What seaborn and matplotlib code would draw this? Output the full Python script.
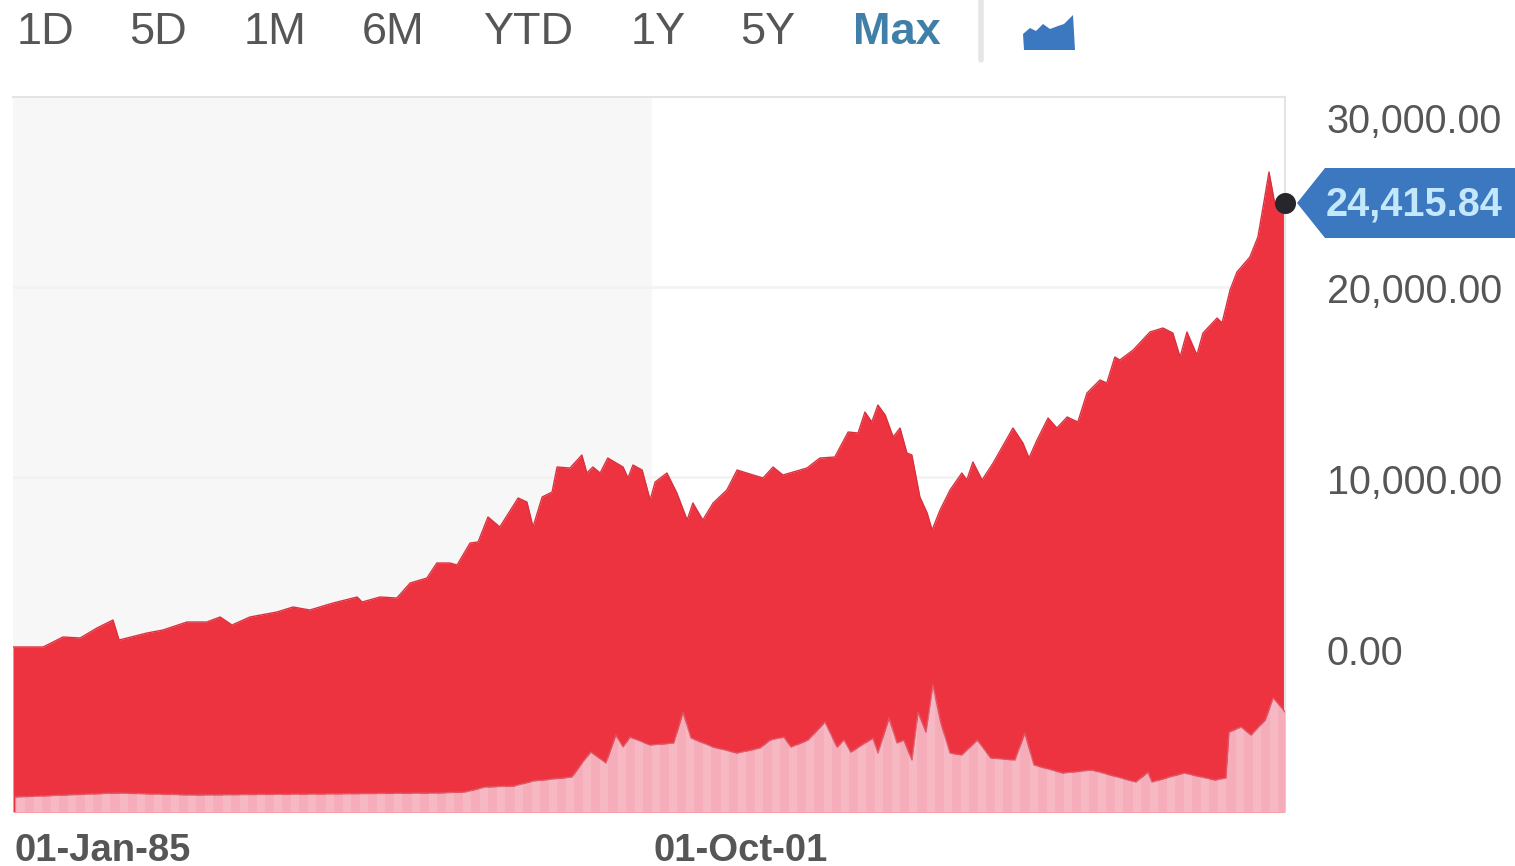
#Library imports
import numpy as np
import pandas as pd
import matplotlib
matplotlib.use('Agg')
import matplotlib.pyplot as plt
from matplotlib.patches import Polygon
from matplotlib.lines import Line2D
from matplotlib.transforms import ScaledTranslation
import seaborn as sns

W, H = 1515, 866

# index level
price_years = [1985.00, 1985.79, 1986.31, 1986.76, 1987.20, 1987.62, 1987.78, 1988.51, 1988.93, 1989.56,
    1990.08, 1990.43, 1990.74, 1991.21, 1991.92, 1992.34, 1992.78, 1993.39, 1994.02, 1994.15,
    1994.62, 1995.06, 1995.41, 1995.85, 1996.11, 1996.45, 1996.64, 1996.98, 1997.19, 1997.45,
    1997.76, 1998.24, 1998.47, 1998.63, 1998.87, 1999.13, 1999.26, 1999.60, 1999.91, 2000.04,
    2000.20, 2000.39, 2000.59, 2000.99, 2001.12, 2001.25, 2001.49, 2001.70, 2001.83, 2002.14,
    2002.40, 2002.67, 2002.82, 2003.08, 2003.35, 2003.71, 2003.98, 2004.40, 2004.66, 2004.92,
    2005.18, 2005.81, 2006.15, 2006.54, 2006.89, 2007.15, 2007.33, 2007.51, 2007.67, 2007.86,
    2008.07, 2008.25, 2008.43, 2008.56, 2008.77, 2008.96, 2009.09, 2009.30, 2009.56, 2009.87,
    2010.00, 2010.16, 2010.40, 2010.69, 2011.21, 2011.47, 2011.63, 2011.84, 2012.13, 2012.36,
    2012.63, 2012.91, 2013.15, 2013.49, 2013.67, 2013.88, 2014.01, 2014.36, 2014.80, 2015.14,
    2015.40, 2015.59, 2015.77, 2016.03, 2016.19, 2016.56, 2016.69, 2016.90, 2017.08, 2017.42,
    2017.63, 2017.81, 2017.92, 2018.07, 2018.29, 2018.34]
price_values = [1053, 1053, 1579, 1526, 2053, 2474, 1421, 1789, 1947, 2368,
    2368, 2632, 2210, 2632, 2895, 3158, 3000, 3368, 3684, 3421,
    3684, 3631, 4421, 4684, 5474, 5474, 5368, 6526, 6579, 7895,
    7368, 8895, 8684, 7368, 8947, 9210, 10526, 10473, 11158, 10210,
    10526, 10210, 11000, 10526, 9947, 10631, 10368, 8789, 9737, 10210,
    9158, 7737, 8631, 7737, 8631, 9316, 10368, 10105, 9947, 10526,
    10105, 10473, 11000, 11052, 12368, 12316, 13421, 12895, 13789, 13263,
    12105, 12579, 11263, 11158, 8947, 8105, 7210, 8263, 9316, 10210,
    9842, 10789, 9842, 10737, 12579, 11789, 11000, 11947, 13105, 12579,
    13158, 12895, 14421, 15105, 14947, 16315, 16157, 16684, 17631, 17842,
    17578, 16315, 17631, 16420, 17578, 18368, 18105, 19842, 20789, 21578,
    22631, 24736, 26052, 24421, 23894, 24415.84]

# volume, own hidden scale
volume_years = [1985.05, 1987.70, 1989.74, 1992.78, 1996.09, 1996.85, 1997.37, 1998.13, 1998.63, 1999.65,
    1999.91, 2000.15, 2000.54, 2000.80, 2000.99, 2001.17, 2001.70, 2002.32, 2002.56, 2002.77,
    2003.35, 2003.98, 2004.58, 2004.84, 2005.21, 2005.39, 2005.84, 2006.28, 2006.60, 2006.78,
    2006.96, 2007.54, 2007.67, 2007.96, 2008.17, 2008.35, 2008.56, 2008.72, 2008.93, 2009.11,
    2009.32, 2009.56, 2009.87, 2010.27, 2010.63, 2011.26, 2011.52, 2011.76, 2012.52, 2013.28,
    2014.43, 2014.75, 2014.85, 2015.69, 2016.50, 2016.79, 2016.87, 2017.19, 2017.45, 2017.82,
    2018.03, 2018.26, 2018.34]
volume_values = [.15, .19, .17, .18, .19, .20, .25, .26, .31, .35,
    .49, .60, .49, .77, .65, .75, .67, .69, 1.00, .74,
    .65, .59, .64, .72, .75, .65, .72, .90, .65, .72,
    .60, .74, .59, .94, .69, .72, .52, 1.00, .80, 1.27,
    .89, .59, .57, .72, .54, .52, .79, .47, .39, .42,
    .30, .40, .30, .39, .32, .34, .80, .85, .77, .92,
    1.14, 1.04, 1.00]

range_labels = ['1D', '5D', '1M', '6M', 'YTD', '1Y', '5Y', 'Max']
range_centers = [45, 158, 275, 393, 528, 658, 768, 897]
y_ticks = [0, 10000, 20000, 30000]
y_labels = ['0.00', '10,000.00', '20,000.00', '30,000.00']
x_ticks = [1985.0, 2001.75]
x_labels = ['01-Jan-85', '01-Oct-01']
last_price = 24415.84

RED = '#ee3340'
PINK = '#f5adb9'
GREY_TEXT = '#565656'
BLUE = '#3b78bf'

sns.set_theme(style='white')
plt.rcParams['font.family'] = ['Liberation Sans', 'DejaVu Sans']

def px(x, y):
    # picture pixels to figure fraction
    return x / W, 1 - y / H

price_df = pd.DataFrame({'year': price_years, 'price': price_values})
volume_df = pd.DataFrame({'year': volume_years, 'volume': volume_values})

fig = plt.figure(figsize=(W / 100, H / 100), dpi=100)
fig.patch.set_facecolor('white')
ax = fig.add_axes([13 / W, (H - 812) / H, 1272 / W, 715 / H])
ax.set_xlim(1985, 2018.34)
ax.set_ylim(-7631, 30000)

# shaded first half and faint grid
ax.axvspan(1985, 2001.75, color='#f7f7f8', lw=0, zorder=0)
ax.axhline(20000, color='#f3f3f3', lw=2, zorder=0.5)
ax.axhline(10000, color='#f3f3f3', lw=2, zorder=0.5)

ax.fill_between(price_df.year, price_df.price, -7631, color=RED, lw=0, zorder=2)
sns.lineplot(data=price_df, x='year', y='price', ax=ax, color='#d8323f', lw=1, zorder=3,
    estimator=None, sort=False)
sns.scatterplot(x=[2018.34], y=[last_price], ax=ax, color='#26262c', s=230, lw=0, zorder=6, clip_on=False)

# volume on hidden second axis
ax2 = ax.twinx()
ax2.set_ylim(0, 7.15)
ax2.set_yticks([])
ax2.set_ylabel('')
ax2.patch.set_alpha(0)
vol_fill = ax2.fill_between(volume_df.year, volume_df.volume, 0, color=PINK, lw=0, zorder=2)
sns.lineplot(data=volume_df, x='year', y='volume', ax=ax2, color='#dc5463', lw=1, zorder=3,
    estimator=None, sort=False)
stripes = ax2.vlines(np.arange(1985.2, 2018.3, 0.45), 0, 2, color='white', alpha=0.14, lw=6, zorder=4)
stripes.set_clip_path(vol_fill.get_paths()[0], ax2.transData)
ax2.set_xlabel('')
for side in ax2.spines.values():
    side.set_visible(False)

for name, side in ax.spines.items():
    side.set_visible(name in ('top', 'right'))
    side.set_color('#e4e4e4')
    side.set_linewidth(1.5)
ax.set_xlabel('')
ax.set_ylabel('')

ax.set_xticks(x_ticks)
ax.set_xticklabels(x_labels, ha='left', fontsize=27.5, color=GREY_TEXT, fontweight='bold')
ax.tick_params(axis='x', length=0, pad=15)
ax.set_yticks(y_ticks)
ax.set_yticklabels(y_labels, fontsize=28.5, color=GREY_TEXT)
ax.yaxis.tick_right()
ax.tick_params(axis='y', length=0, pad=30)

# axis labels sit off their gridlines near the ends
label_shift = {'0.00': 17, '10,000.00': -2, '20,000.00': -1, '30,000.00': -21}
for lab in ax.get_yticklabels():
    shift = ScaledTranslation(0, label_shift[lab.get_text()] / 100, fig.dpi_scale_trans)
    lab.set_transform(lab.get_transform() + shift)
for lab in ax.get_xticklabels():
    lab.set_transform(lab.get_transform() + ScaledTranslation(0.015, 0, fig.dpi_scale_trans))

# range selector
for name, cx in zip(range_labels, range_centers):
    is_max = name == 'Max'
    fig.text(*px(cx, 32.5), name, ha='center', va='center', fontsize=32.5,
        color='#3f7fa8' if is_max else GREY_TEXT, fontweight='bold' if is_max else 'normal')
fig.add_artist(Line2D([px(981, 0)[0]] * 2, [px(0, 0)[1], px(0, 60)[1]], color='#e6e6e6', lw=4))

# chart type icon
icon = [(1024, 50), (1023, 34), (1030, 28), (1036, 31), (1043, 24), (1050, 29), (1058, 26), (1064, 24),
    (1073, 15), (1075, 50)]
fig.add_artist(Polygon([px(*p) for p in icon], closed=True, color=BLUE, lw=0, transform=fig.transFigure))

# last price flag
flag = [(1297, 203), (1325, 168), (1515, 168), (1515, 238), (1325, 238)]
fig.add_artist(Polygon([px(*p) for p in flag], closed=True, color=BLUE, lw=0, transform=fig.transFigure))
fig.text(*px(1414, 204), '24,415.84', ha='center', va='center', fontsize=28.5, color='#c4e8fb', fontweight='bold')

fig.savefig('out.png', dpi=100)
